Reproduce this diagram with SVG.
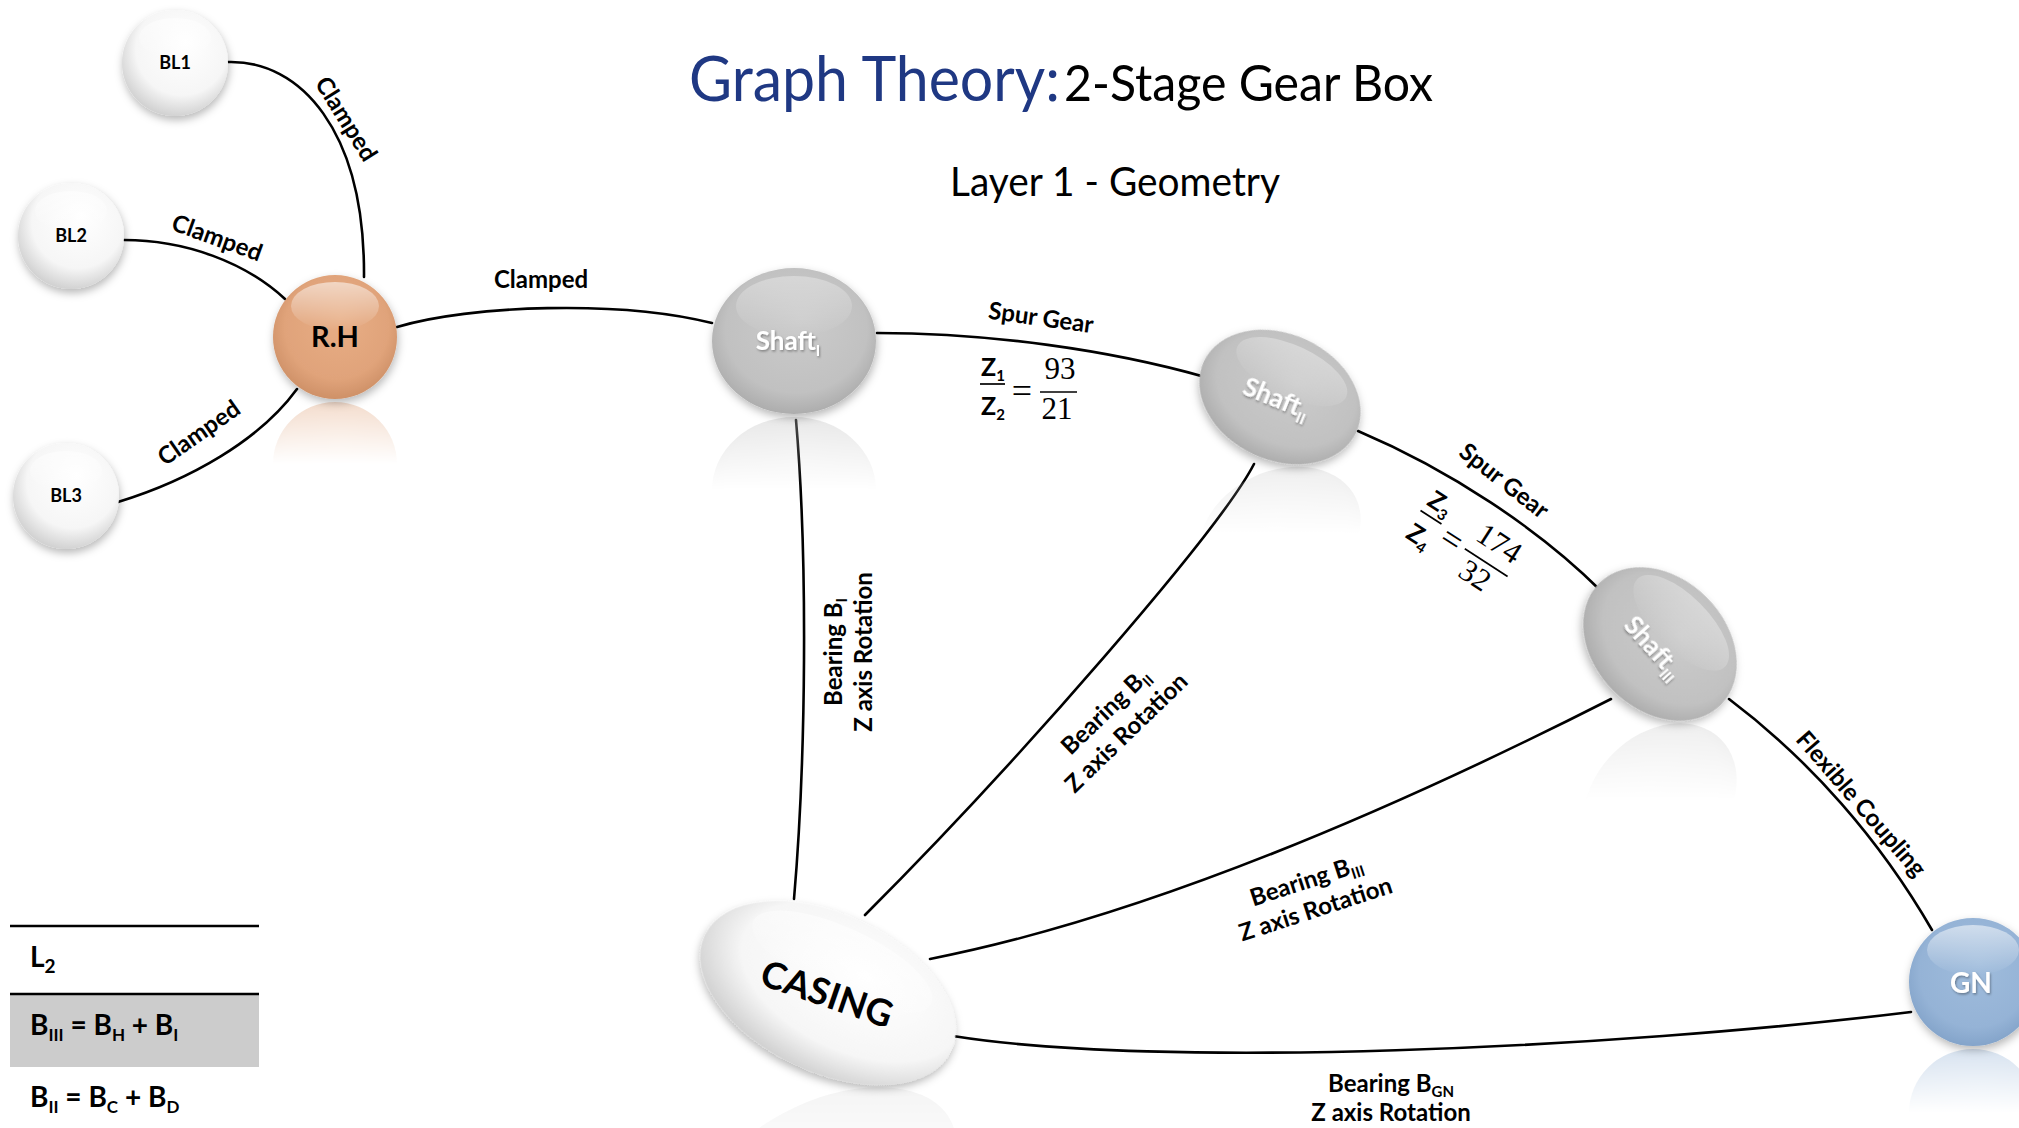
<svg xmlns="http://www.w3.org/2000/svg" width="2019" height="1128" viewBox="0 0 2019 1128">
  <defs>
    <style>
      .edge{fill:none;stroke:#000;stroke-width:2.6;stroke-linecap:round}
      .lbl{font-family:Lato,"Open Sans",sans-serif;font-weight:700;font-size:24px;fill:#000;text-anchor:middle}
      .nl{font-family:Lato,"Open Sans",sans-serif;font-weight:700;text-anchor:middle}
      .wt{fill:#fff;filter:url(#tsh)}
      .math{font-family:"Liberation Serif","DejaVu Serif",serif;font-size:31px;fill:#000;text-anchor:middle}
      .eq{font-family:"Liberation Serif","DejaVu Serif",serif;font-size:36px;fill:#000;text-anchor:middle}
      .zz{font-family:Lato,"Open Sans",sans-serif;font-weight:700;font-size:25px;fill:#000;text-anchor:middle}
      .bar{stroke:#000;stroke-width:1.7}
      .leg{font-family:Lato,"Open Sans",sans-serif;font-weight:700;font-size:28px;fill:#000}
      .title{font-family:Lato,"Open Sans",sans-serif}
    </style>
    <radialGradient id="gWhite" cx="0.55" cy="0.4" r="0.62" fx="0.6" fy="0.3">
      <stop offset="0" stop-color="#ffffff"/>
      <stop offset="0.7" stop-color="#f6f6f6"/>
      <stop offset="1" stop-color="#cfcfcf"/>
    </radialGradient>
    <radialGradient id="gOrange" cx="0.5" cy="0.45" r="0.6" fx="0.55" fy="0.35">
      <stop offset="0" stop-color="#E8AE86"/>
      <stop offset="0.7" stop-color="#E0A37A"/>
      <stop offset="1" stop-color="#C98B62"/>
    </radialGradient>
    <radialGradient id="gGray" cx="0.5" cy="0.45" r="0.6" fx="0.55" fy="0.35">
      <stop offset="0" stop-color="#CBCBCB"/>
      <stop offset="0.72" stop-color="#C1C1C1"/>
      <stop offset="1" stop-color="#A6A6A6"/>
    </radialGradient>
    <radialGradient id="gBlue" cx="0.5" cy="0.45" r="0.6" fx="0.55" fy="0.35">
      <stop offset="0" stop-color="#9FBCDC"/>
      <stop offset="0.72" stop-color="#95B3D6"/>
      <stop offset="1" stop-color="#7E9FC6"/>
    </radialGradient>
    <linearGradient id="gloss" x1="0" y1="0" x2="0" y2="1">
      <stop offset="0" stop-color="#fff" stop-opacity="0.55"/>
      <stop offset="1" stop-color="#fff" stop-opacity="0"/>
    </linearGradient>
    <linearGradient id="fadeGrad" x1="0" y1="0" x2="0" y2="1">
      <stop offset="0" stop-color="#fff" stop-opacity="0.38"/>
      <stop offset="0.5" stop-color="#fff" stop-opacity="0"/>
    </linearGradient>
    <mask id="fade" maskContentUnits="objectBoundingBox">
      <rect width="1" height="1" fill="url(#fadeGrad)"/>
    </mask>
    <filter id="sh" x="-25%" y="-25%" width="150%" height="160%">
      <feDropShadow dx="1" dy="4" stdDeviation="4" flood-color="#000" flood-opacity="0.28"/>
    </filter>
    <filter id="tsh" x="-10%" y="-20%" width="130%" height="160%">
      <feDropShadow dx="1" dy="1.5" stdDeviation="1" flood-color="#000" flood-opacity="0.35"/>
    </filter>
  </defs>

  <rect width="2019" height="1128" fill="#fff"/>

  <!-- heading -->
  <g id="title" class="title">
    <text x="689" y="101" font-size="62" fill="#1F3883" textLength="371" lengthAdjust="spacingAndGlyphs">Graph Theory:</text>
    <text x="1064" y="101" font-size="51" fill="#000" textLength="369" lengthAdjust="spacingAndGlyphs">2-Stage Gear Box</text>
    <text x="950" y="196" font-size="40" fill="#000" textLength="330" lengthAdjust="spacingAndGlyphs">Layer 1 - Geometry</text>
  </g>

  <!-- connections between parts -->
  <g id="connectors">
    <path class="edge" d="M228 62 C300 60 365 130 364 277"/>
    <path class="edge" d="M124 240 C185 240 245 262 285 299"/>
    <path class="edge" d="M118 502 C190 480 260 440 297 389"/>
    <path class="edge" d="M397 327 C470 305 620 300 712 323"/>
    <path class="edge" d="M877 333 C990 333 1110 350 1205 377"/>
    <path class="edge" d="M1358 431 C1450 470 1540 530 1600 590"/>
    <path class="edge" d="M1729 699 C1810 760 1880 840 1932 930"/>
    <path class="edge" d="M796 420 C808 560 806 760 794 899"/>
    <path class="edge" d="M1254 464 C1220 530 1020 760 865 915"/>
    <path class="edge" d="M1611 699 C1416 798 1159 914 930 959"/>
    <path class="edge" d="M953 1036 C1159 1069 1609 1049 1911 1012"/>
  </g>

  <g id="connector-labels">
    <text class="lbl" transform="translate(346 119) rotate(58)" y="8">Clamped</text>
    <text class="lbl" transform="translate(217 238) rotate(20)" y="8">Clamped</text>
    <text class="lbl" transform="translate(199 433) rotate(-35)" y="8">Clamped</text>
    <text class="lbl" x="541" y="288">Clamped</text>
    <text class="lbl" transform="translate(1041 318) rotate(8)" y="8">Spur Gear</text>
    <text class="lbl" transform="translate(1504 481) rotate(38)" y="8">Spur Gear</text>
    <text class="lbl" transform="translate(1861 804) rotate(49)" y="8">Flexible Coupling</text>

    <!-- gear ratio, first stage -->
    <g transform="translate(1025 390)">
      <text class="zz" x="-32" y="-14">Z<tspan dy="5" font-size="15">1</tspan></text>
      <line class="bar" x1="-45" y1="-6" x2="-20" y2="-6"/>
      <text class="zz" x="-32" y="25">Z<tspan dy="5" font-size="15">2</tspan></text>
      <text class="eq" x="-3" y="13">=</text>
      <text class="math" x="35" y="-11">93</text>
      <line class="bar" x1="15" y1="2" x2="52" y2="2"/>
      <text class="math" x="32" y="29">21</text>
    </g>
    <!-- gear ratio, second stage -->
    <g transform="translate(1455 540) rotate(33)">
      <text class="zz" x="-32" y="-14">Z<tspan dy="5" font-size="15">3</tspan></text>
      <line class="bar" x1="-45" y1="-6" x2="-20" y2="-6"/>
      <text class="zz" x="-32" y="25">Z<tspan dy="5" font-size="15">4</tspan></text>
      <text class="eq" x="-3" y="13">=</text>
      <text class="math" x="39" y="-11">174</text>
      <line class="bar" x1="13" y1="2" x2="64" y2="2"/>
      <text class="math" x="36" y="29">32</text>
    </g>

    <g transform="translate(849 652) rotate(-90)">
      <text class="lbl" y="-7">Bearing B<tspan dy="5" font-size="15">I</tspan></text>
      <text class="lbl" y="23">Z axis Rotation</text>
    </g>
    <g transform="translate(1116 722) rotate(-44)">
      <text class="lbl" y="-7">Bearing B<tspan dy="5" font-size="15">II</tspan></text>
      <text class="lbl" y="23">Z axis Rotation</text>
    </g>
    <g transform="translate(1311 895) rotate(-18)">
      <text class="lbl" y="-7">Bearing B<tspan dy="5" font-size="15">III</tspan></text>
      <text class="lbl" y="23">Z axis Rotation</text>
    </g>
    <g transform="translate(1391 1092)">
      <text class="lbl" y="0">Bearing B<tspan dy="5" font-size="15">GN</tspan></text>
      <text class="lbl" y="29">Z axis Rotation</text>
    </g>
  </g>

  <!-- blade nodes -->
  <g id="node-bl1">
    <circle cx="175" cy="63" r="53" fill="url(#gWhite)" filter="url(#sh)"/>
    <ellipse cx="175" cy="38" rx="36" ry="20" fill="url(#gloss)"/>
    <text class="nl" x="175" y="69" font-size="18">BL1</text>
  </g>
  <g id="node-bl2">
    <circle cx="71" cy="236" r="53" fill="url(#gWhite)" filter="url(#sh)"/>
    <ellipse cx="71" cy="211" rx="36" ry="20" fill="url(#gloss)"/>
    <text class="nl" x="71" y="242" font-size="18">BL2</text>
  </g>
  <g id="node-bl3">
    <circle cx="66" cy="496" r="53" fill="url(#gWhite)" filter="url(#sh)"/>
    <ellipse cx="66" cy="471" rx="36" ry="20" fill="url(#gloss)"/>
    <text class="nl" x="66" y="502" font-size="18">BL3</text>
  </g>

  <!-- rotor hub -->
  <g id="node-rh">
    <g mask="url(#fade)"><circle cx="335" cy="464" r="62" fill="url(#gOrange)"/></g>
    <circle cx="335" cy="337" r="62" fill="url(#gOrange)" filter="url(#sh)"/>
    <ellipse cx="335" cy="306" rx="44" ry="24" fill="url(#gloss)"/>
    <text class="nl" x="335" y="347" font-size="29" fill="#000">R.H</text>
  </g>

  <!-- shafts -->
  <g id="node-shaft1">
    <g mask="url(#fade)"><ellipse cx="794" cy="490" rx="82" ry="73" fill="url(#gGray)"/></g>
    <ellipse cx="794" cy="341" rx="82" ry="73" fill="url(#gGray)" filter="url(#sh)"/>
    <ellipse cx="794" cy="306" rx="58" ry="30" fill="url(#gloss)" opacity="0.6"/>
    <text class="nl wt" x="788" y="350" font-size="26">Shaft<tspan dy="6" font-size="15">I</tspan></text>
  </g>
  <g id="node-shaft2">
    <g mask="url(#fade)"><ellipse cx="0" cy="0" rx="84" ry="63" transform="translate(1280 534) rotate(-25)" fill="url(#gGray)"/></g>
    <g transform="translate(1280 397) rotate(25)">
      <ellipse cx="0" cy="0" rx="84" ry="63" fill="url(#gGray)" filter="url(#sh)"/>
      <ellipse cx="0" cy="-28" rx="60" ry="26" fill="url(#gloss)" opacity="0.6"/>
    </g>
    <text class="nl wt" transform="translate(1276 399) rotate(22)" y="8" font-size="26">Shaft<tspan dy="6" font-size="15">II</tspan></text>
  </g>
  <g id="node-shaft3">
    <g mask="url(#fade)"><ellipse cx="0" cy="0" rx="86" ry="66" transform="translate(1660 800) rotate(-45)" fill="url(#gGray)"/></g>
    <g transform="translate(1660 644) rotate(45)">
      <ellipse cx="0" cy="0" rx="86" ry="66" fill="url(#gGray)" filter="url(#sh)"/>
      <ellipse cx="0" cy="-30" rx="62" ry="27" fill="url(#gloss)" opacity="0.6"/>
    </g>
    <text class="nl wt" transform="translate(1653 648) rotate(48)" y="8" font-size="26">Shaft<tspan dy="6" font-size="15">III</tspan></text>
  </g>

  <!-- housing -->
  <g id="node-casing">
    <g mask="url(#fade)"><ellipse cx="0" cy="0" rx="136" ry="79" transform="translate(828 1179) rotate(-25)" fill="#d8d8d8"/></g>
    <g transform="translate(828 993) rotate(25)">
      <ellipse cx="0" cy="0" rx="136" ry="79" fill="url(#gWhite)" filter="url(#sh)"/>
      <ellipse cx="0" cy="-34" rx="98" ry="34" fill="url(#gloss)"/>
    </g>
    <text class="nl" transform="translate(827 994) rotate(19)" y="13" font-size="37" fill="#000">CASING</text>
  </g>

  <!-- generator -->
  <g id="node-gn">
    <g mask="url(#fade)"><circle cx="1973" cy="1113" r="64" fill="url(#gBlue)"/></g>
    <circle cx="1973" cy="982" r="64" fill="url(#gBlue)" filter="url(#sh)"/>
    <ellipse cx="1973" cy="950" rx="46" ry="25" fill="url(#gloss)"/>
    <text class="nl wt" x="1971" y="993" font-size="28">GN</text>
  </g>

  <!-- bearing groups table -->
  <g id="legend">
    <rect x="10" y="994" width="249" height="73" fill="#CCCCCC"/>
    <line x1="10" y1="926" x2="259" y2="926" stroke="#000" stroke-width="2.6"/>
    <line x1="10" y1="994" x2="259" y2="994" stroke="#000" stroke-width="2.6"/>
    <text class="leg" x="30" y="967">L<tspan dy="6" font-size="19">2</tspan></text>
    <text class="leg" x="30" y="1035">B<tspan dy="6" font-size="17">III</tspan><tspan dy="-6"> = B</tspan><tspan dy="6" font-size="17">H</tspan><tspan dy="-6"> + B</tspan><tspan dy="6" font-size="17">I</tspan></text>
    <text class="leg" x="30" y="1107">B<tspan dy="6" font-size="17">II</tspan><tspan dy="-6"> = B</tspan><tspan dy="6" font-size="17">C</tspan><tspan dy="-6"> + B</tspan><tspan dy="6" font-size="17">D</tspan></text>
  </g>
</svg>
